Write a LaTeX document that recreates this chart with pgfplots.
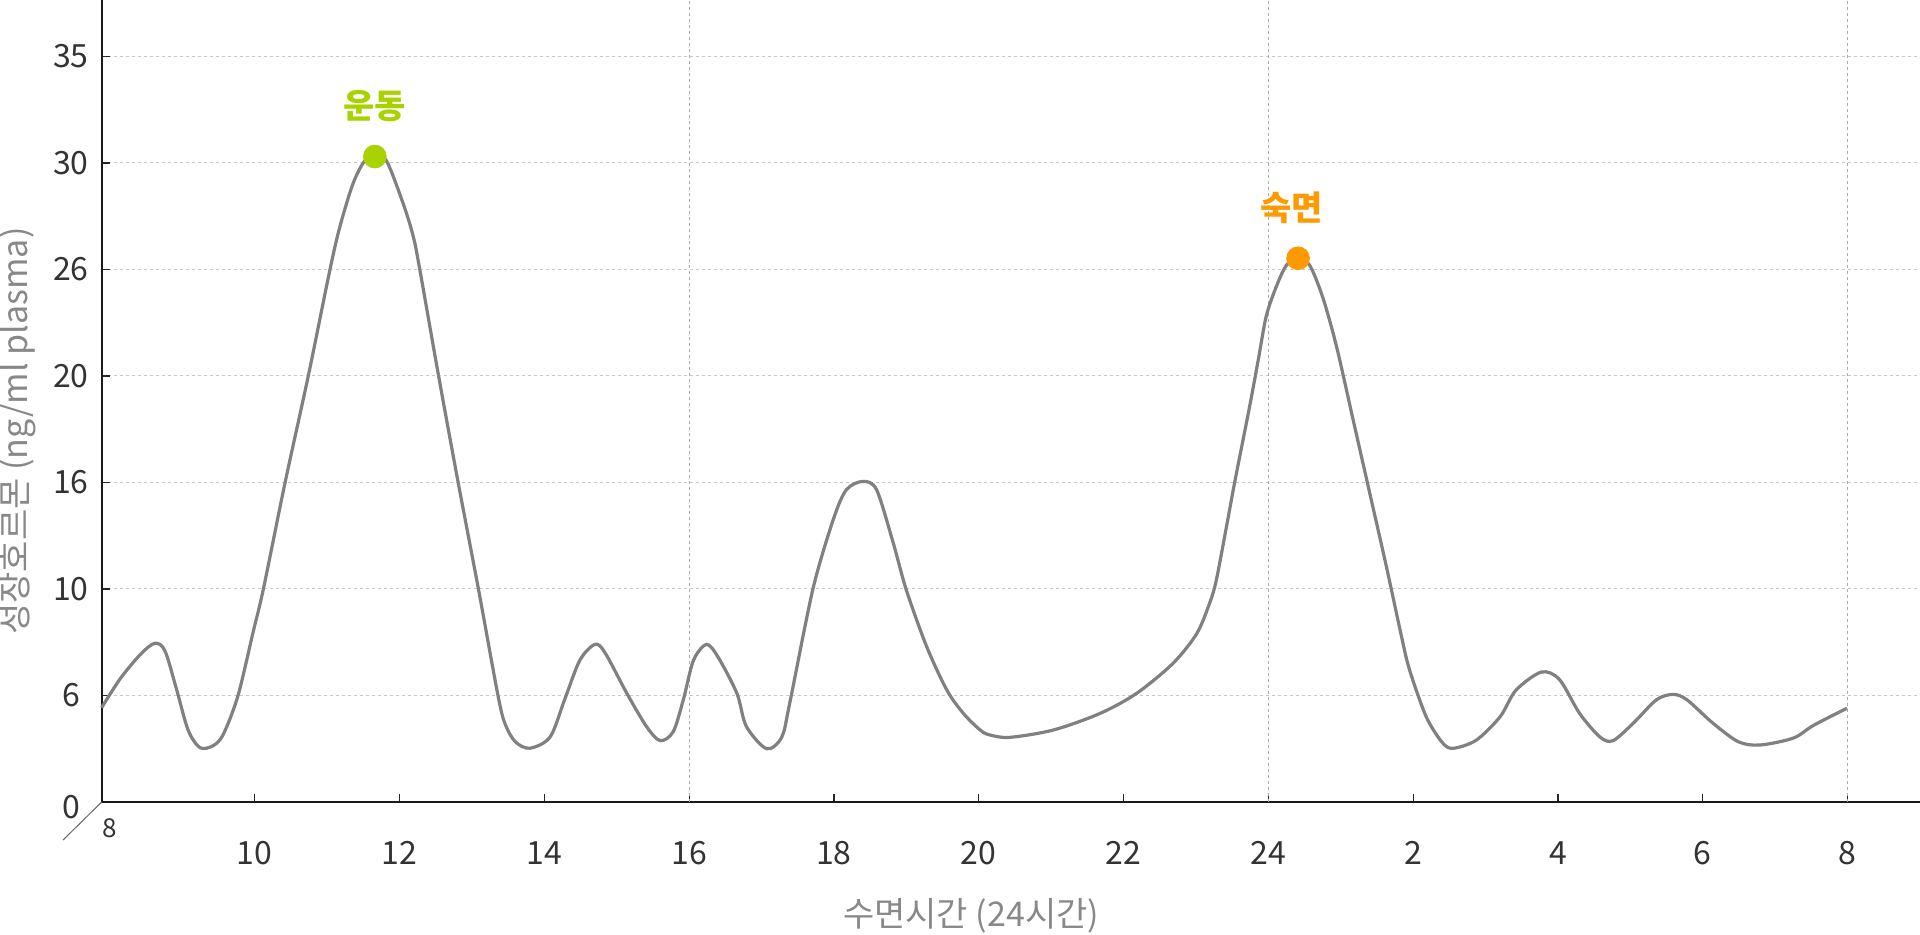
\documentclass[border=0pt]{standalone}
\usepackage{fontspec}
\setmainfont{Noto Sans CJK KR}
\usepackage{pgfplots}
\pgfplotsset{compat=1.18}
\definecolor{curvegray}{HTML}{808080}
\definecolor{gridgray}{HTML}{C8C8C8}
\definecolor{vgridgray}{HTML}{AAAAAA}
\definecolor{ticktext}{HTML}{333333}
\definecolor{labelgray}{HTML}{888888}
\definecolor{exgreen}{HTML}{A8D300}
\definecolor{sleeporange}{HTML}{FF9900}
\begin{document}
\begin{tikzpicture}
\begin{axis}[
  at={(0,0)}, anchor=south west,
  scale only axis,
  width=909.15pt, height=401pt,
  xmin=7.887, xmax=33.0,
  ymin=0, ymax=7.53,
  clip=false,
  axis x line*=bottom, axis y line*=left,
  axis line style={-, line width=1.1pt, color=black!90},
  xtick={10,12,14,16,18,20,22,24,26,28,30,32},
  xticklabels={10,12,14,16,18,20,22,24,2,4,6,8},
  ytick={0,1,2,3,4,5,6,7},
  yticklabels={,6,10,16,20,26,30,35},
  /pgf/number format/assume math mode=true,
  tick align=inside,
  major tick length=4pt,
  tick style={line width=0.6pt, color=black!85},
  ticklabel style={font=\fontsize{16}{19}\selectfont, text=ticktext},
  xticklabel style={anchor=base, yshift=-31.5pt},
  yticklabel style={anchor=center, xshift=-15.35pt},
  ymajorgrids=true,
  major grid style={dash pattern=on 1.5pt off 1.5pt, line width=0.5pt, color=gridgray},
  extra x ticks={16,24,32},
  extra x tick labels={},
  extra x tick style={xmajorgrids=true, ymajorgrids=false, major tick length=0pt,
    major grid style={dash pattern=on 1.5pt off 1.5pt, line width=0.5pt, color=vgridgray}},
]
\addplot[curvegray, line width=1.6pt, smooth, tension=0.5] coordinates {
(7.887,0.886) (8.14,1.155) (8.42,1.385) (8.62,1.49) (8.76,1.42) (8.92,1.06)
(9.08,0.676) (9.245,0.51) (9.43,0.53) (9.57,0.64) (9.77,1.0) (9.98,1.60)
(10.12,2.0) (10.42,3.0) (10.74,4.0) (11.04,5.0) (11.18,5.41) (11.36,5.81)
(11.52,6.02) (11.66,6.06) (11.82,6.02) (12.05,5.62) (12.19,5.31) (12.28,5.0)
(12.54,4.0) (12.81,3.0) (13.09,2.0) (13.36,1.0) (13.46,0.73) (13.60,0.565)
(13.80,0.505) (14.08,0.61) (14.28,0.96) (14.49,1.33) (14.70,1.48) (14.84,1.40)
(15.14,1.02) (15.41,0.71) (15.60,0.576) (15.78,0.66) (15.92,0.96) (16.06,1.33)
(16.24,1.48) (16.40,1.36) (16.66,1.02) (16.79,0.71) (17.07,0.50) (17.28,0.61)
(17.39,0.93) (17.71,2.0) (17.99,2.65) (18.17,2.93) (18.40,3.01) (18.59,2.93)
(18.82,2.43) (19.0,1.99) (19.28,1.46) (19.56,1.05) (19.79,0.83) (20.02,0.676)
(20.15,0.63) (20.43,0.607) (21.03,0.676) (21.67,0.83) (22.18,1.02) (22.68,1.30)
(23.01,1.58) (23.19,1.87) (23.28,2.08) (23.42,2.58) (23.54,3.02) (23.74,3.71)
(23.86,4.15) (23.97,4.56) (24.11,4.84) (24.25,5.04) (24.41,5.105) (24.57,5.04)
(24.75,4.74) (24.94,4.28) (25.17,3.59) (25.40,2.90) (25.63,2.21) (25.84,1.55)
(25.95,1.24) (26.18,0.80) (26.40,0.56) (26.55,0.504) (26.87,0.58) (27.20,0.80)
(27.42,1.05) (27.77,1.22) (28.02,1.15) (28.30,0.83) (28.58,0.61) (28.76,0.576)
(29.04,0.74) (29.36,0.96) (29.59,1.01) (29.78,0.96) (30.14,0.74) (30.49,0.566)
(30.79,0.535) (31.25,0.60) (31.53,0.72) (31.99,0.88)
};
\addplot[only marks, mark=*, mark size=5.7pt, color=exgreen] coordinates {(11.66,6.06)};
\addplot[only marks, mark=*, mark size=5.7pt, color=sleeporange] coordinates {(24.41,5.105)};
\node[font=\bfseries\fontsize{17}{20}\selectfont, text=exgreen] at (axis cs:11.66,6.53) {운동};
\node[font=\bfseries\fontsize{17}{20}\selectfont, text=sleeporange] at (axis cs:24.32,5.58) {숙면};
\end{axis}
\draw[line width=0.5pt, color=black!60] (0,0) -- (-19.3pt,-19pt);
\node[font=\fontsize{13}{15}\selectfont, text=ticktext] at (4.2pt,-13pt) {8};
\node[font=\fontsize{16}{19}\selectfont, text=ticktext, anchor=center] at (-15.35pt,-2.75pt) {0};
\node[rotate=90, font=\fontsize{17}{20}\selectfont, text=labelgray] at (-41.8pt,185.5pt) {성장호르몬 (ng/ml plasma)};
\node[font=\fontsize{17}{20}\selectfont, text=labelgray] at (434.7pt,-57pt) {수면시간 (24시간)};
\pgfresetboundingbox
\path[use as bounding box] (-50.85pt,-66.5pt) rectangle (909.15pt,401pt);
\end{tikzpicture}
\end{document}
